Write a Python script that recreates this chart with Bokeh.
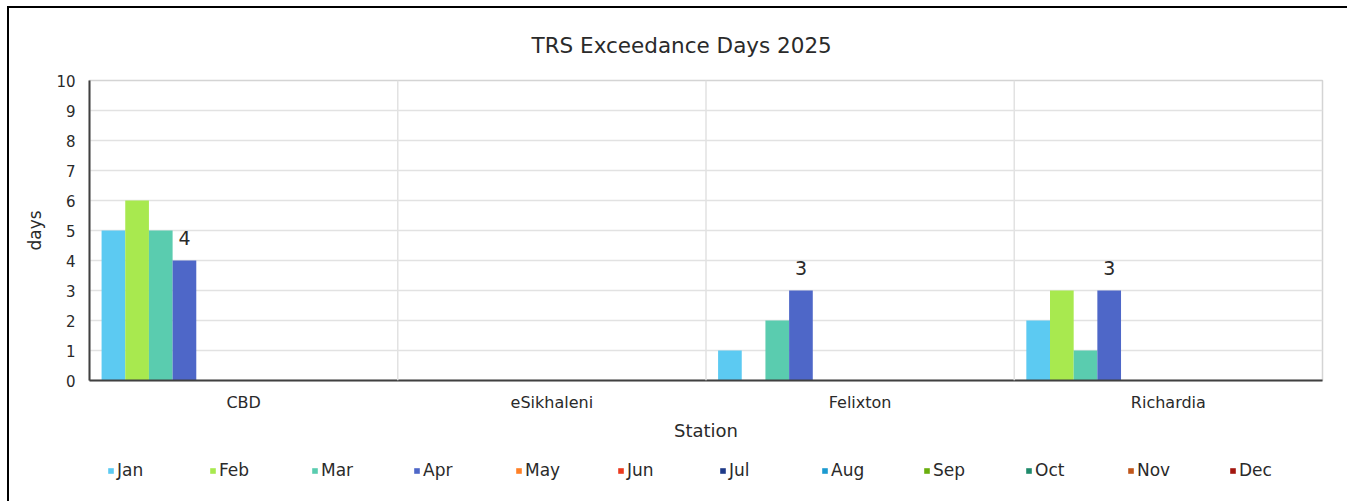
from bokeh.plotting import figure
from bokeh.layouts import column
from bokeh.models import ColumnDataSource, FactorRange, Range1d, Legend, LegendItem, Span, SingleIntervalTicker
from bokeh.transform import dodge
from bokeh.core.properties import value
from bokeh.embed import file_html
from bokeh.resources import INLINE

# ---- data ----
stations = ["CBD", "eSikhaleni", "Felixton", "Richardia"]
months = ["Jan", "Feb", "Mar", "Apr", "May", "Jun",
          "Jul", "Aug", "Sep", "Oct", "Nov", "Dec"]
jan = [5, 0, 1, 2]
feb = [6, 0, 0, 3]
mar = [5, 0, 2, 1]
apr = [4, 0, 3, 3]
may = [0, 0, 0, 0]
jun = [0, 0, 0, 0]
jul = [0, 0, 0, 0]
aug = [0, 0, 0, 0]
sep = [0, 0, 0, 0]
oct_ = [0, 0, 0, 0]
nov = [0, 0, 0, 0]
dec = [0, 0, 0, 0]
colors = ["#5CCAF2", "#A8E94F", "#5ACCAF", "#4E67C8", "#FF8026", "#EB3A1E",
          "#1F3A88", "#1C9AD0", "#6AAE0E", "#1F8A6B", "#C0561A", "#A3170F"]
series = [jan, feb, mar, apr, may, jun, jul, aug, sep, oct_, nov, dec]
label_month = "Apr"

FONT = "DejaVu Sans"
TXT = "#2a2a2a"

data = {"station": stations}
for m, s in zip(months, series):
    data[m] = s
source = ColumnDataSource(data)

p = figure(x_range=FactorRange(*stations), y_range=Range1d(0, 10),
           width=1338, height=442, output_backend="svg", toolbar_location=None,
           min_border_left=80, min_border_right=25, min_border_top=71,
           min_border_bottom=70, title="TRS Exceedance Days 2025")

p.title.text_font = FONT
p.title.text_font_size = "21.5px"
p.title.text_font_style = "normal"
p.title.text_color = TXT
p.title.align = "left"
p.title.offset = 442
p.title.standoff = 45

p.outline_line_color = "#d4d4d4"
p.outline_line_width = 1.5
p.background_fill_color = "white"
p.border_fill_color = "white"

n = len(months)
bw = 0.0768
start = -bw * n / 2
for i, (m, c) in enumerate(zip(months, colors)):
    off = start + (i + 0.5) * bw
    p.vbar(x=dodge("station", off, range=p.x_range), top=m, width=bw,
           source=source, fill_color=c, line_color=None)

# labels on the chosen month's bars
li = months.index(label_month)
vals = series[li]
lab_src = ColumnDataSource({
    "station": [s for s, v in zip(stations, vals) if v > 0],
    "v": [v for v in vals if v > 0],
    "t": [str(v) for v in vals if v > 0],
})
p.text(x=dodge("station", start + (li + 0.5) * bw, range=p.x_range), y="v", text="t",
       source=lab_src, text_align="center", text_baseline="alphabetic", y_offset=-23,
       text_font=value(FONT), text_font_size="19px", text_color=TXT)

# grid
p.xgrid.visible = False
for k in range(1, len(stations)):
    p.add_layout(Span(location=k, dimension="height", line_color="#e2e2e2", line_width=1.5))
p.ygrid.grid_line_color = "#e2e2e2"
p.ygrid.grid_line_width = 1.5
p.yaxis.ticker = SingleIntervalTicker(interval=1)

# axes
for ax in (p.xaxis[0], p.yaxis[0]):
    ax.axis_line_color = "#404040"
    ax.axis_line_width = 2
    ax.major_tick_line_color = None
    ax.minor_tick_line_color = None
    ax.major_tick_out = 0
    ax.major_tick_in = 0
    ax.major_label_text_font = FONT
    ax.major_label_text_color = TXT
    ax.axis_label_text_font = FONT
    ax.axis_label_text_font_style = "normal"
    ax.axis_label_text_color = TXT

p.yaxis.axis_label = "days"
p.yaxis.major_label_text_font_size = "15px"
p.yaxis.major_label_standoff = 10
p.yaxis.axis_label_text_font_size = "17px"
p.yaxis.axis_label_standoff = 8

p.xaxis.axis_label = "Station"
p.xaxis.major_label_text_font_size = "16px"
p.xaxis.major_label_standoff = 12
p.xaxis.axis_label_text_font_size = "18px"
p.xaxis.axis_label_standoff = 5

# ---- legend strip (separate figure, same data & colours) ----
lf = figure(x_range=p.x_range, y_range=Range1d(100, 101), width=1338, height=51,
            output_backend="svg", toolbar_location=None, min_border=0)
lf.axis.visible = False
lf.grid.visible = False
lf.outline_line_color = None
lrs = []
for i, (m, c) in enumerate(zip(months, colors)):
    off = start + (i + 0.5) * bw
    r = lf.vbar(x=dodge("station", off, range=lf.x_range), top=m, width=bw,
                source=source, fill_color=c, line_color=None)
    lrs.append(r)

legend = Legend(items=[LegendItem(label=m, renderers=[r]) for m, r in zip(months, lrs)],
                location=(18, 21), orientation="horizontal")
legend.glyph_width = 7
legend.glyph_height = 7
legend.label_standoff = 3
legend.label_width = 86
legend.spacing = 6
legend.padding = 0
legend.margin = 0
legend.border_line_color = None
legend.background_fill_alpha = 0
legend.label_text_font = FONT
legend.label_text_font_size = "17px"
legend.label_text_color = TXT
lf.add_layout(legend)

layout = column(p, lf, spacing=0,
                styles={"margin-left": "7px", "margin-top": "6px",
                        "border-left": "2px solid #000000", "border-top": "2px solid #000000"})

open("out.html", "w").write(file_html(layout, INLINE))
